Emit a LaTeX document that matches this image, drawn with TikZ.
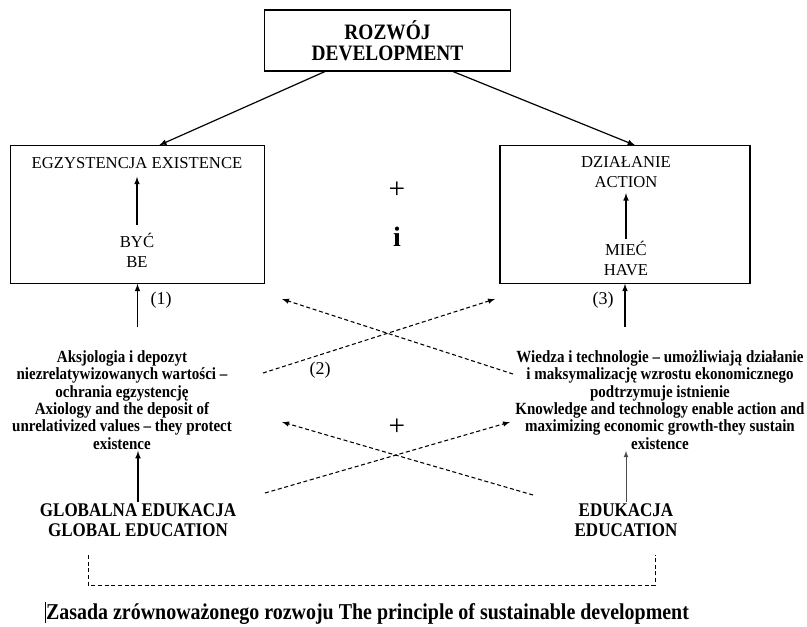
\documentclass[tikz,border=0pt]{standalone}
\usepackage{fontspec}
\setmainfont{Liberation Serif}
\newfontfamily\narrowserif[FakeStretch=0.88]{Liberation Serif}
\usetikzlibrary{arrows,calc}
\tikzset{>=latex}
\tikzstyle{mainbox}=[rectangle,draw,line width=0.9pt,inner sep=0pt]
\tikzstyle{boxtext}=[align=center,inner sep=1pt,font=\fontsize{12.5}{15}\selectfont]
\tikzstyle{boldtext}=[align=center,inner sep=1pt,font=\narrowserif\fontsize{12.8}{13}\selectfont\bfseries]
\tikzstyle{edutext}=[align=center,inner sep=1pt,font=\narrowserif\fontsize{14.5}{15}\selectfont\bfseries]
\tikzstyle{numtext}=[inner sep=1pt,font=\fontsize{13.5}{14}\selectfont]
\tikzstyle{link}=[->,line width=0.9pt]
\tikzstyle{crossing}=[->,line width=0.8pt,dash pattern=on 3pt off 2pt]

\begin{document}
\begin{tikzpicture}[x=0.75pt,y=-0.75pt]
    \useasboundingbox (0,0) rectangle (807,626);
    % boxes
    \node[mainbox,minimum width=185pt,minimum height=45.75pt,align=center,font=\narrowserif\fontsize{16.5}{15.75}\selectfont\bfseries] (dev) at (387.5,40.5) {ROZWÓJ\\DEVELOPMENT};
    \node[mainbox,minimum width=190pt,minimum height=103pt] (exist) at (137.5,214.5) {};
    \node[mainbox,minimum width=187.5pt,minimum height=103pt] (act) at (625,214.5) {};
    
    \node[boxtext] (egz) at (137,163) {EGZYSTENCJA EXISTENCE};
    \node[boxtext] (byc) at (137,250) {BYĆ\\BE};
    \node[boxtext] (dzi) at (626,172) {DZIAŁANIE\\ACTION};
    \node[boxtext] (mie) at (626,258) {MIEĆ\\HAVE};
    
    \node[font=\fontsize{22}{22}\selectfont] (plusa) at (397,190) {+};
    \node[font=\fontsize{21}{21}\selectfont\bfseries] (ilet) at (397,237) {i};
    \node[font=\fontsize{22}{22}\selectfont] (plusb) at (397,427) {+};
    
    \node[numtext] (n1) at (161,300) {(1)};
    \node[numtext] (n2) at (320,370) {(2)};
    \node[numtext] (n3) at (603,300) {(3)};
    
    \node[boldtext] (axio) at (122,400) {Aksjologia i depozyt\\niezrelatywizowanych wartości –\\ochrania egzystencję\\Axiology and the deposit of\\unrelativized values – they protect\\existence};
    \node[boldtext] (wied) at (660,400) {Wiedza i technologie – umożliwiają działanie\\i maksymalizację wzrostu ekonomicznego\\podtrzymuje istnienie\\Knowledge and technology enable action and\\maximizing economic growth-they sustain\\existence};
    \node[edutext] (glob) at (138,520) {GLOBALNA EDUKACJA\\GLOBAL EDUCATION};
    \node[edutext] (edu) at (626,520) {EDUKACJA\\EDUCATION};
    \node[anchor=west,inner sep=0pt,font=\narrowserif\fontsize{17}{17}\selectfont\bfseries] (rule) at (45,613) {\rule[-3pt]{0.6pt}{16pt}Zasada zrównoważonego rozwoju The principle of sustainable development};
    
    % solid arrows
    \draw[link] ($(dev.south west)!0.247!(dev.south east)$) -- ($(exist.north west)!0.585!(exist.north east)$);
    \draw[link] ($(dev.south west)!0.765!(dev.south east)$) -- ($(act.north west)!0.54!(act.north east)$);
    \draw[link,shorten <=5pt,shorten >=5pt] (byc) -- (egz);
    \draw[link,shorten >=3pt] (mie) -- (dzi);
    \coordinate (lup) at (137.5,327);
    \coordinate (rup) at (625,327);
    \draw[link] (lup) -- (exist.south);
    \draw[link] (rup) -- (act.south);
    \draw[link] (glob.north) -- (glob.north |- axio.south);
    \draw[link,line width=0.6pt,black!70] (edu.north) -- (edu.north |- wied.south);
    
    % dashed crossings
    \coordinate (c1s) at (263,373);
    \coordinate (c1e) at (495,299);
    \coordinate (c2s) at (513,374);
    \coordinate (c2e) at (282,299);
    \coordinate (c3s) at (265,493);
    \coordinate (c3e) at (510,422);
    \coordinate (c4s) at (533,495);
    \coordinate (c4e) at (282,422);
    \draw[crossing] (c1s) -- (c1e);
    \draw[crossing] (c2s) -- (c2e);
    \draw[crossing] (c3s) -- (c3e);
    \draw[crossing] (c4s) -- (c4e);
    
    % bracket
    \coordinate (b1) at (88,555);
    \coordinate (b2) at (88,585);
    \coordinate (b3) at (655,585);
    \coordinate (b4) at (655,555);
    \draw[line width=0.6pt,dash pattern=on 3pt off 2pt] (b1) -- (b2) -- (b3) -- (b4);
\end{tikzpicture}
\end{document}
